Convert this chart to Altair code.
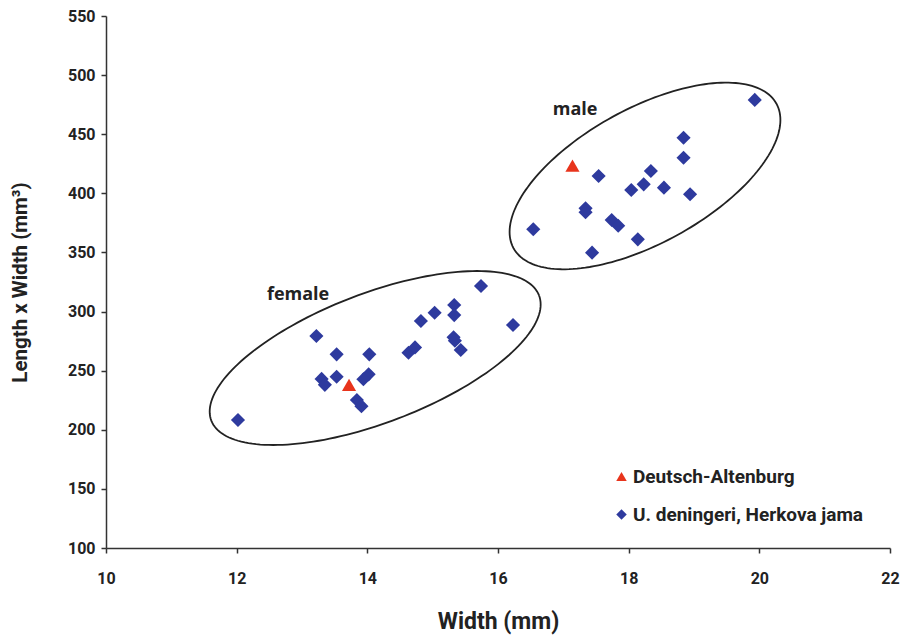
import altair as alt
import pandas as pd
import numpy as np

# ---- data ----
da_x = [13.72, 17.14]
da_y = [237.9, 423.4]

ud_x = [12.02, 13.22, 13.53, 13.30, 13.35, 13.53, 14.03, 14.02, 13.94, 13.84, 13.91,
        14.63, 14.73, 14.82, 15.03, 15.33, 15.33, 15.32, 15.34, 15.43, 15.74, 16.23,
        19.93, 18.84, 18.84, 18.34, 17.54, 18.23, 18.54, 18.04, 18.94, 17.34, 17.34,
        17.74, 17.84, 16.54, 18.14, 17.44]
ud_y = [208.3, 279.3, 263.8, 243.0, 238.0, 244.9, 263.8, 246.9, 242.7, 225.2, 220.0,
        265.2, 269.7, 292.0, 299.0, 305.5, 297.0, 278.2, 275.3, 267.5, 321.6, 288.6,
        479.0, 447.0, 430.1, 418.9, 414.7, 407.6, 404.8, 402.8, 399.2, 387.3, 384.0,
        377.4, 372.6, 369.6, 361.1, 349.8]

series_names = ["Deutsch-Altenburg", "U. deningeri, Herkova jama"]
series_colors = ["#E8341C", "#2E3A9E"]
series_shapes = ["triangle-up", "diamond"]

x_ticks = [10, 12, 14, 16, 18, 20, 22]
y_ticks = [100, 150, 200, 250, 300, 350, 400, 450, 500, 550]

group_labels = ["female", "male"]
group_label_x = [12.94, 17.18]
group_label_y = [314.0, 470.5]

# ellipse outlines: centre (data units), semi-axes (px), tilt (deg)
ell_names = ["female", "male"]
ell_cx = [14.12, 18.25]
ell_cy = [260.7, 414.7]
ell_a = [175.4, 150.0]
ell_b = [64.7, 67.4]
ell_ang = [20.9, 28.8]

PX_PER_X = 65.33
PX_PER_Y = 1.1822

pts = pd.DataFrame({
    "x": da_x + ud_x,
    "y": da_y + ud_y,
    "series": [series_names[0]] * len(da_x) + [series_names[1]] * len(ud_x),
})

rows = []
for n, cx, cy, a, b, ang in zip(ell_names, ell_cx, ell_cy, ell_a, ell_b, ell_ang):
    th = np.radians(ang)
    for i, t in enumerate(np.linspace(0, 2 * np.pi, 181)):
        dx = a * np.cos(t) * np.cos(th) - b * np.sin(t) * np.sin(th)
        dy = a * np.cos(t) * np.sin(th) + b * np.sin(t) * np.cos(th)
        rows.append({"g": n, "i": i, "x": cx + dx / PX_PER_X, "y": cy + dy / PX_PER_Y})
ell = pd.DataFrame(rows)

labels = pd.DataFrame({"x": group_label_x, "y": group_label_y, "t": group_labels})

FONT = "Roboto"

xsc = alt.Scale(domain=[10, 22], nice=False, zero=False)
ysc = alt.Scale(domain=[100, 550], nice=False, zero=False)

xax = alt.Axis(values=x_ticks, format="d", title="Width (mm)", grid=False, labelFlush=False,
               labelPadding=17, titlePadding=24, titleFontSize=23)
yax = alt.Axis(values=y_ticks, format="d", title="Length x Width (mm³)", grid=False,
               labelPadding=6, titlePadding=37, titleFontSize=20.5)

ellipses = alt.Chart(ell).mark_line(color="#222", strokeWidth=1.8, clip=False).encode(
    x=alt.X("x:Q", scale=xsc, axis=xax),
    y=alt.Y("y:Q", scale=ysc, axis=yax),
    detail="g:N",
    order="i:Q",
)

points = alt.Chart(pts).mark_point(filled=True, opacity=1, size=200).encode(
    x=alt.X("x:Q", scale=xsc),
    y=alt.Y("y:Q", scale=ysc),
    color=alt.Color("series:N", scale=alt.Scale(domain=series_names, range=series_colors),
                    legend=alt.Legend(title=None, orient="none", legendX=506, legendY=451,
                                      labelFont=FONT, labelFontSize=19, labelFontWeight="bold",
                                      labelColor="#222", symbolSize=110, rowPadding=18,
                                      labelOffset=2, padding=0, labelLimit=0)),
    shape=alt.Shape("series:N", scale=alt.Scale(domain=series_names, range=series_shapes)),
)

texts = alt.Chart(labels).mark_text(font="Open Sans", fontSize=18, fontWeight="bold",
                                    color="#222").encode(
    x=alt.X("x:Q", scale=xsc),
    y=alt.Y("y:Q", scale=ysc),
    text="t:N",
)

chart = alt.layer(ellipses, points, texts).properties(
    width=784, height=532,
    autosize=alt.AutoSizeParams(type="none"),
    padding={"left": 106, "top": 16, "right": 13, "bottom": 91},
    background="white",
).configure_view(stroke=None).configure_axis(
    domainColor="#333", domainWidth=1.5, tickColor="#333", tickWidth=1.5, tickSize=5,
    labelFont=FONT, labelFontSize=16, labelFontWeight="bold", labelColor="#222",
    titleFont=FONT, titleFontWeight="bold", titleColor="#222",
)

chart.save("out.html", embed_options={"renderer": "svg", "actions": False})
